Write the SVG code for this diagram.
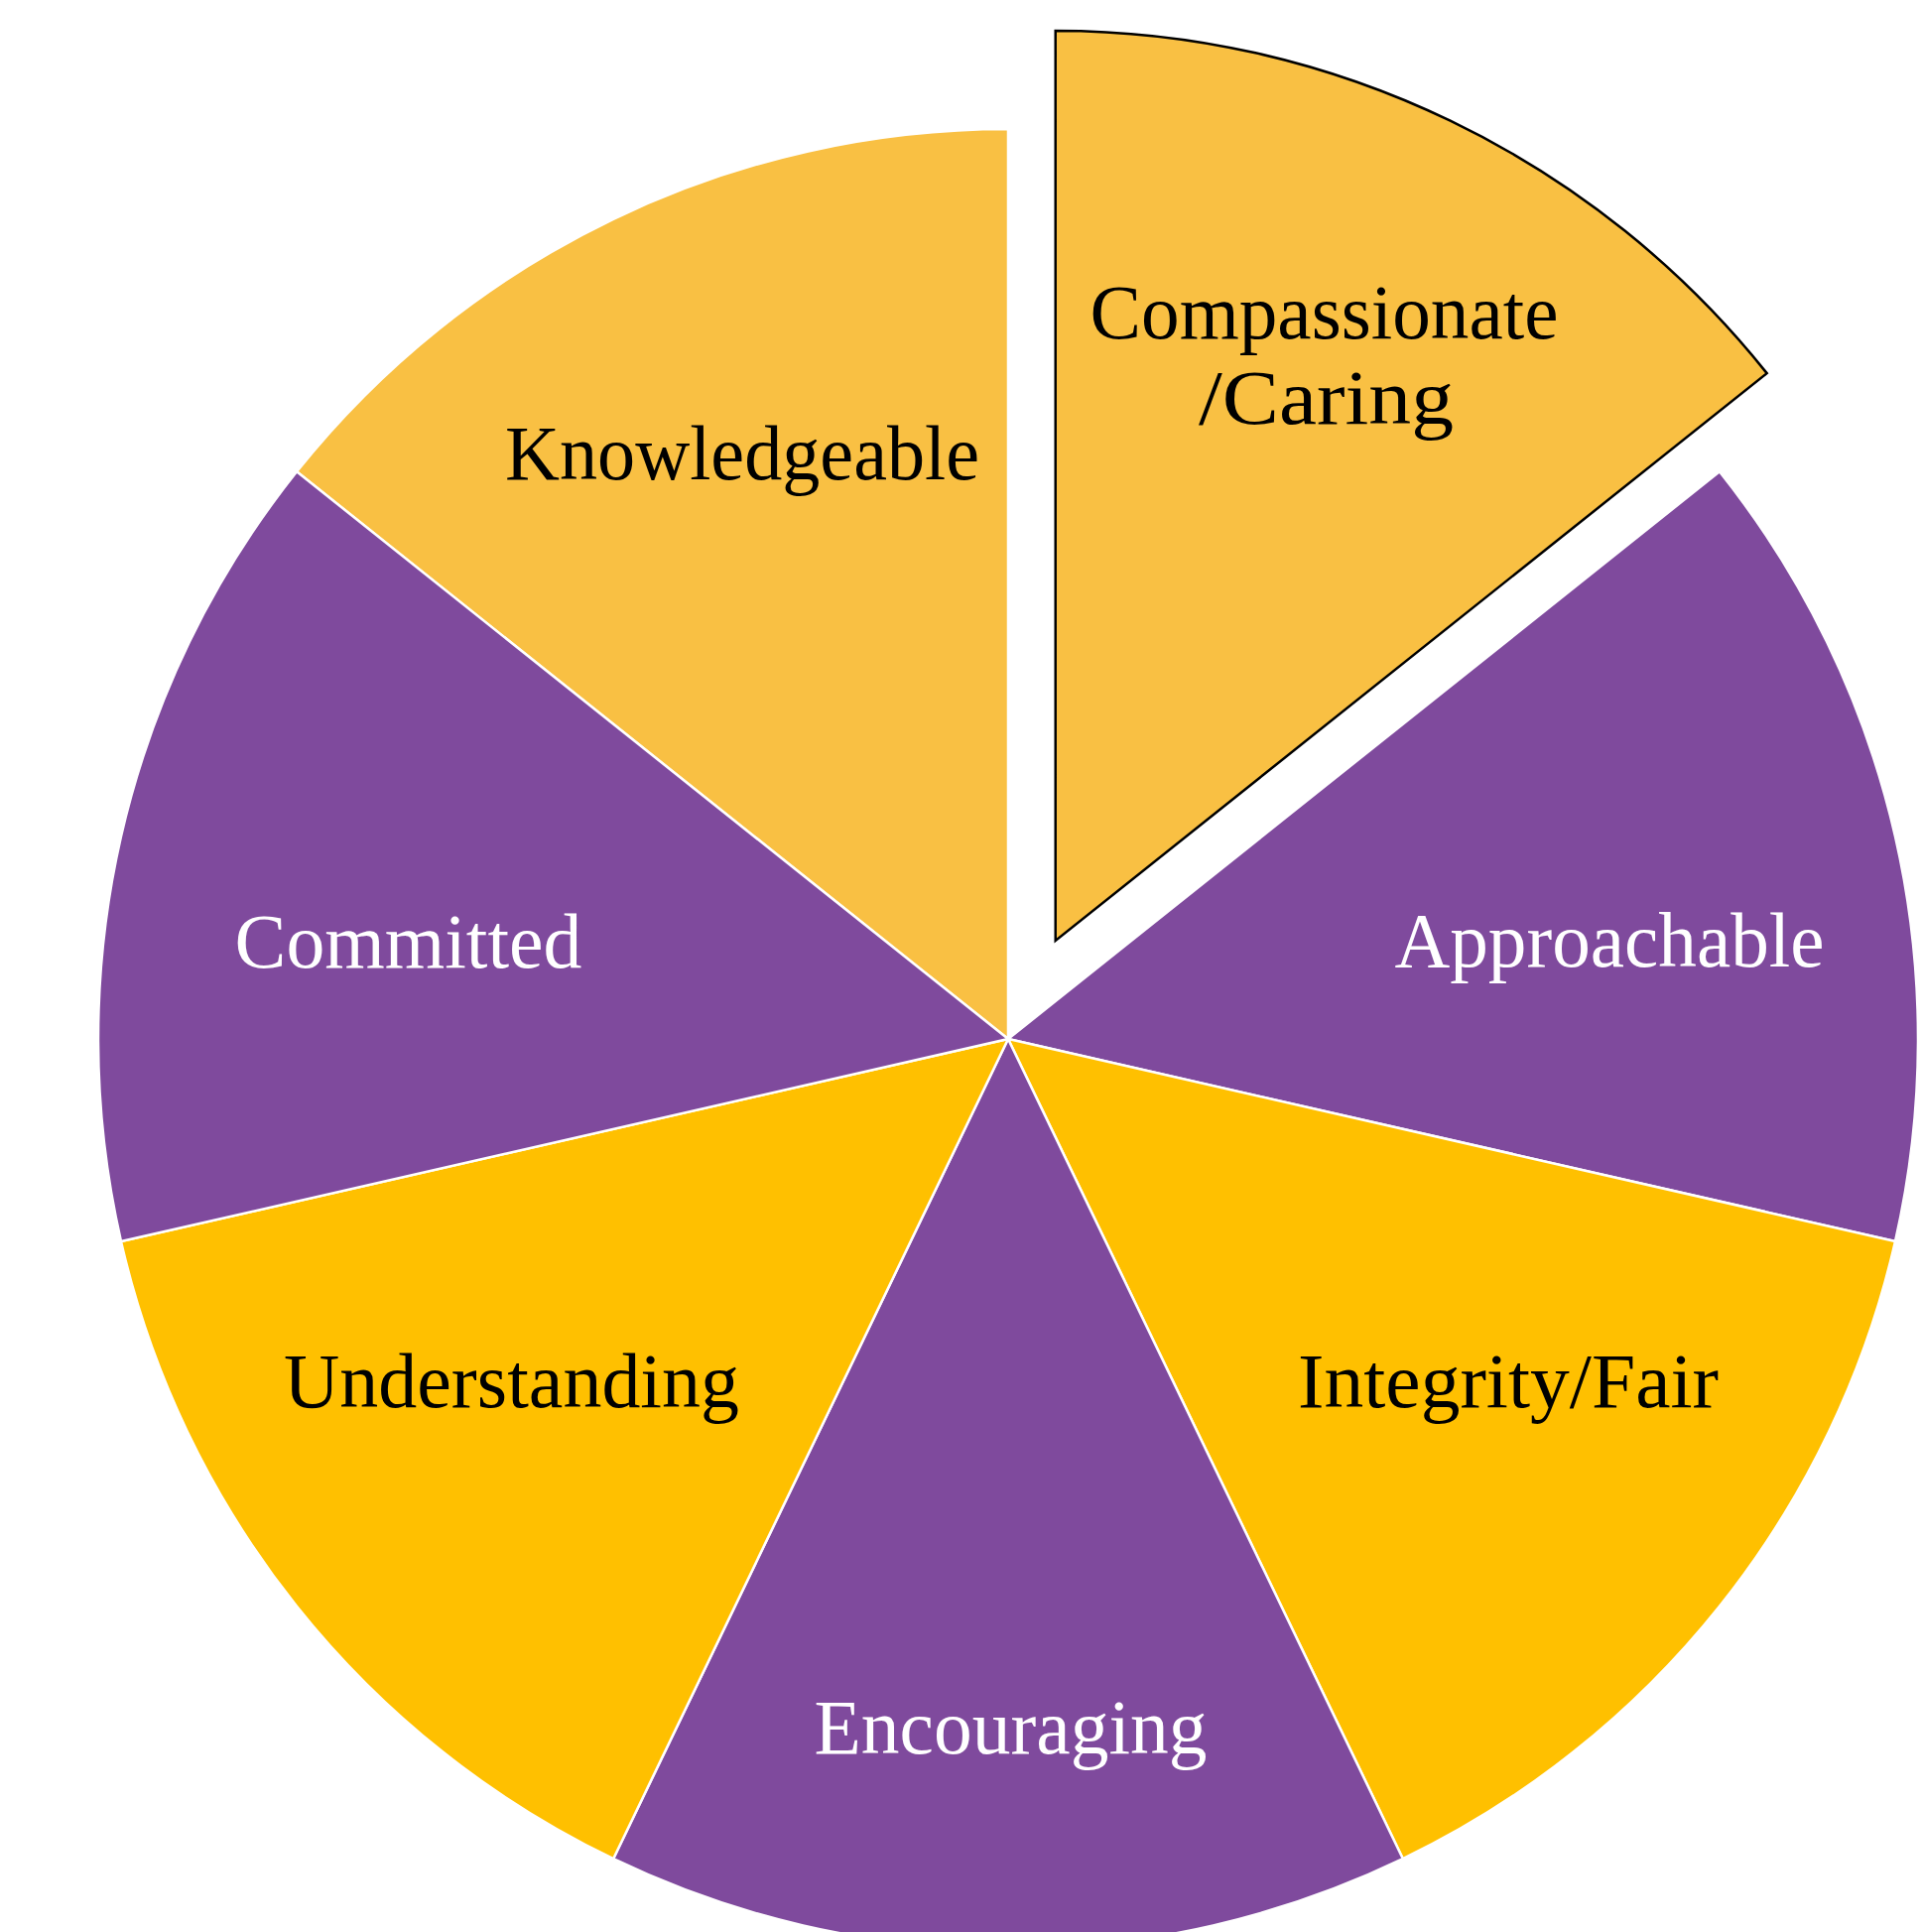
<svg xmlns="http://www.w3.org/2000/svg" width="1936" height="1947" viewBox="0 0 1936 1947">
<style>
.s{stroke:#FFFFFF;stroke-width:2.5;stroke-linejoin:round}
.ex{stroke:#000000;stroke-width:2.5;stroke-linejoin:miter}
.lo{fill:#F9C043}
.pu{fill:#7F4A9D}
.go{fill:#FFC000}
text{font-family:"Liberation Serif","Times New Roman",serif;font-size:78px;text-anchor:middle}
.dk{fill:#000000}
.wt{fill:#FFFFFF}
</style>
<rect width="1936" height="1947" fill="#FFFFFF"/>
<g id="slice-knowledgeable">
<path class="lo s" d="M1016,1047 L299.06,475.26 A917,917 0 0 1 1016,130 Z"/>
<text class="dk" x="748" y="483" textLength="478" lengthAdjust="spacingAndGlyphs">Knowledgeable</text>
</g>
<g id="slice-approachable">
<path class="pu s" d="M1016,1047 L1732.94,475.26 A917,917 0 0 1 1910.01,1251.05 Z"/>
<text class="wt" x="1622" y="974" textLength="433" lengthAdjust="spacingAndGlyphs">Approachable</text>
</g>
<g id="slice-integrity">
<path class="go s" d="M1016,1047 L1910.01,1251.05 A917,917 0 0 1 1413.87,1873.19 Z"/>
<text class="dk" x="1520" y="1418" textLength="424" lengthAdjust="spacingAndGlyphs">Integrity/Fair</text>
</g>
<g id="slice-encouraging">
<path class="pu s" d="M1016,1047 L1413.87,1873.19 A917,917 0 0 1 618.13,1873.19 Z"/>
<text class="wt" x="1018.5" y="1767" textLength="396" lengthAdjust="spacingAndGlyphs">Encouraging</text>
</g>
<g id="slice-understanding">
<path class="go s" d="M1016,1047 L618.13,1873.19 A917,917 0 0 1 121.99,1251.05 Z"/>
<text class="dk" x="515.5" y="1418" textLength="459" lengthAdjust="spacingAndGlyphs">Understanding</text>
</g>
<g id="slice-committed">
<path class="pu s" d="M1016,1047 L121.99,1251.05 A917,917 0 0 1 299.06,475.26 Z"/>
<text class="wt" x="411.5" y="975" textLength="350" lengthAdjust="spacingAndGlyphs">Committed</text>
</g>
<g id="slice-compassionate">
<path class="lo ex" d="M1063.73,947.89 L1063.73,30.89 A917,917 0 0 1 1780.67,376.15 Z"/>
<text class="dk" x="1334.5" y="341" textLength="472" lengthAdjust="spacingAndGlyphs">Compassionate</text>
<text class="dk" x="1336.5" y="427" textLength="257" lengthAdjust="spacingAndGlyphs">/Caring</text>
</g>
<g id="connectors"/>
</svg>
